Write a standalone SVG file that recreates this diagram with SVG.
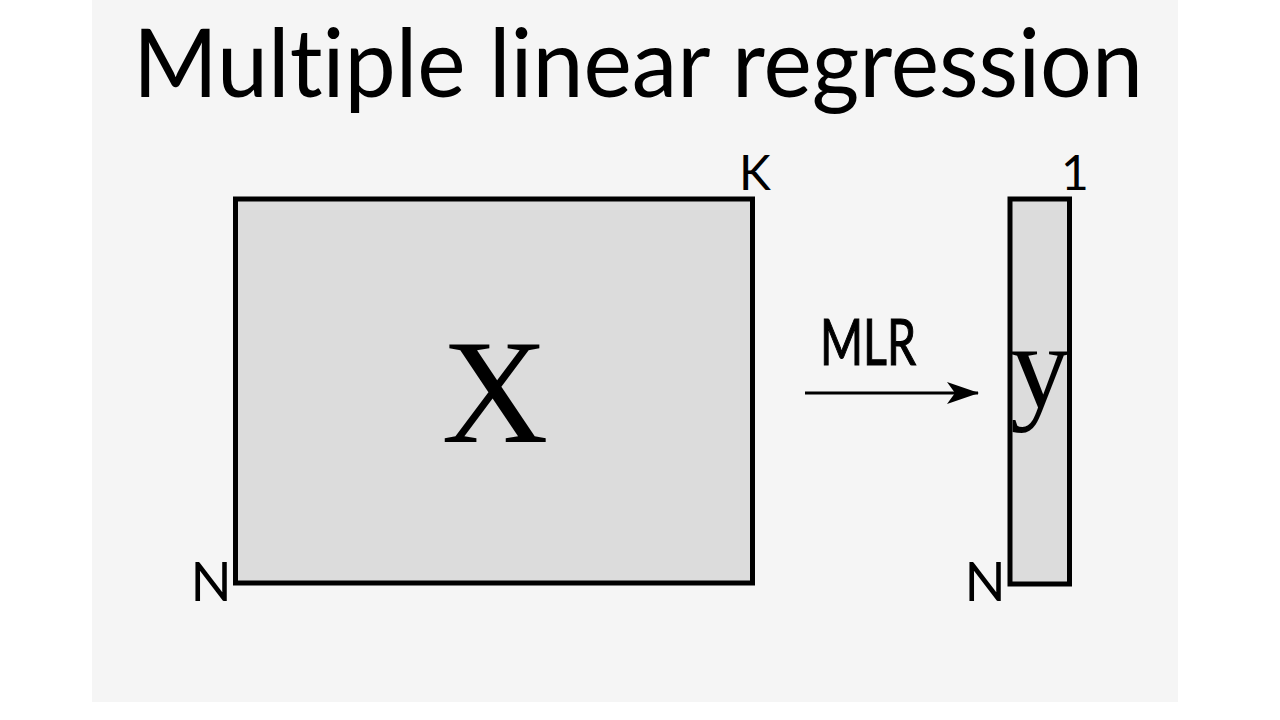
<svg xmlns="http://www.w3.org/2000/svg" width="1280" height="720" viewBox="0 0 1280 720">
  <defs>
    <style>
      .sans { font-family: "Lato", "Open Sans", "Liberation Sans", sans-serif; fill: #000; font-variant-ligatures: none; font-feature-settings: "liga" 0, "clig" 0; }
      .serif { font-family: "Liberation Serif", "DejaVu Serif", serif; fill: #000; }
      .matrix { fill: #dcdcdc; stroke: #000; stroke-width: 5; }
    </style>
    <marker id="arrow" viewBox="0 0 32 22" refX="31" refY="11" markerWidth="32" markerHeight="22" markerUnits="userSpaceOnUse" orient="auto">
      <path d="M0,0 L32,11 L0,22 L8,11 Z" fill="#000"/>
    </marker>
  </defs>
  <rect x="0" y="0" width="1280" height="720" fill="#ffffff"/>
  <rect x="92" y="0" width="1086" height="702" fill="#f5f5f5"/>

  <text class="sans" x="638" y="97" font-size="95" text-anchor="middle" textLength="1010" lengthAdjust="spacingAndGlyphs">Multiple linear regression</text>

  <g id="matrix-X">
    <rect class="matrix" x="235.5" y="199" width="517" height="384"/>
    <text class="serif" x="495" y="442" font-size="148" text-anchor="middle">X</text>
    <text class="sans" x="755" y="190" font-size="48" text-anchor="middle">K</text>
    <text class="sans" x="211" y="601" font-size="54" text-anchor="middle">N</text>
  </g>

  <g id="vector-y">
    <rect class="matrix" x="1010" y="199" width="59.5" height="385"/>
    <text class="serif" x="1040" y="407" font-size="120" text-anchor="middle">y</text>
    <text class="sans" x="1075" y="190" font-size="48" text-anchor="middle">1</text>
    <text class="sans" x="985" y="601" font-size="54" text-anchor="middle">N</text>
  </g>

  <g id="connectors">
    <line x1="805" y1="393" x2="978" y2="393" stroke="#000" stroke-width="3" marker-end="url(#arrow)"/>
    <text class="sans" x="820" y="365" font-size="64" textLength="96" lengthAdjust="spacingAndGlyphs" stroke="#000" stroke-width="1.2">MLR</text>
  </g>
</svg>
